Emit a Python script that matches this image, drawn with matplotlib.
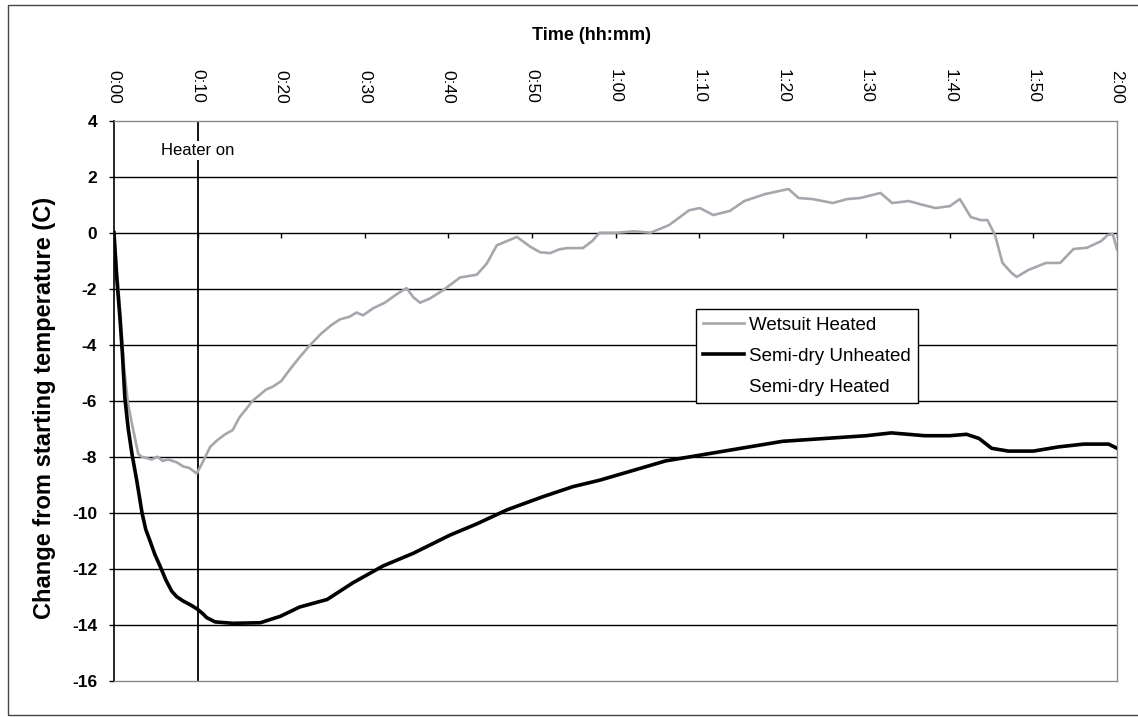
import matplotlib
matplotlib.use("Agg")
import matplotlib.pyplot as plt
from matplotlib.patches import Rectangle

plt.rcParams['font.family'] = ['Liberation Sans', 'DejaVu Sans']
plt.rcParams['axes.unicode_minus'] = False

# ---- data (time in minutes, change from starting temperature in C) ----
series_names = ["Wetsuit Heated", "Semi-dry Unheated", "Semi-dry Heated"]

wetsuit_t = [0, 0.4, 0.8, 1.2, 1.67, 2.2, 2.9, 3.3, 3.9, 4.5, 5.2, 5.8, 6.5, 7.5,
             8.3, 9.0, 9.9, 10.6, 11.5, 12.4, 13.3, 14.2, 15.0, 15.8, 16.6, 17.4,
             18.2, 19.0, 20.0, 21.0, 22.2, 23.5, 24.8, 26.0, 27.0, 28.2, 29.0,
             29.8, 31.0, 32.4, 33.8, 35.0, 35.8, 36.6, 37.8, 39.4, 41.4, 43.4,
             44.6, 45.8, 47.0, 48.2, 49.8, 51.0, 52.2, 53.2, 54.2, 56.1, 57.2,
             58.1, 60.2, 62.2, 64.2, 66.4, 68.8, 70.1, 71.7, 73.7, 75.4, 77.9,
             80.7, 81.9, 83.6, 86.0, 87.7, 89.3, 91.7, 93.1, 95.1, 96.8, 98.3,
             100.0, 101.2, 102.5, 103.7, 104.5, 105.4, 106.3, 107.4, 108.0,
             109.4, 111.5, 113.2, 114.8, 116.4, 118.1, 118.9, 119.5, 120.0]
wetsuit_v = [0, -1.5, -3.0, -4.8, -6.1, -6.9, -7.9, -8.0, -8.05, -8.1, -8.0, -8.15,
             -8.1, -8.2, -8.35, -8.4, -8.6, -8.2, -7.65, -7.4, -7.2, -7.05, -6.6,
             -6.3, -6.0, -5.8, -5.6, -5.5, -5.3, -4.9, -4.45, -4.0, -3.6, -3.3,
             -3.1, -3.0, -2.85, -2.95, -2.7, -2.5, -2.2, -1.98, -2.3, -2.5, -2.35,
             -2.05, -1.6, -1.5, -1.1, -0.45, -0.3, -0.15, -0.5, -0.7, -0.73, -0.6,
             -0.55, -0.55, -0.3, 0.0, 0.0, 0.05, 0.0, 0.27, 0.8, 0.88, 0.63, 0.78,
             1.13, 1.38, 1.56, 1.24, 1.2, 1.06, 1.2, 1.24, 1.42, 1.06, 1.13, 0.99,
             0.88, 0.95, 1.2, 0.56, 0.45, 0.45, -0.08, -1.08, -1.44, -1.58, -1.33,
             -1.08, -1.08, -0.58, -0.54, -0.3, -0.08, -0.05, -0.6]

unheated_t = [0, 0.3, 0.7, 1.0, 1.3, 1.7, 2.15, 2.75, 3.35, 3.8, 4.3, 4.9, 5.5,
              6.2, 6.9, 7.5, 8.25, 9.2, 10.0, 10.6, 11.1, 12.1, 14.2, 17.5, 19.9,
              22.2, 25.5, 28.6, 32.2, 35.8, 40.2, 43.4, 47.0, 51.3, 54.9, 58.1,
              62.0, 66.0, 70.0, 75.0, 80.0, 85.0, 90.0, 93.0, 97.0, 100.0, 102.0,
              103.5, 105.0, 107.0, 110.0, 113.0, 116.0, 119.0, 120.0]
unheated_v = [0, -1.5, -3.0, -4.3, -5.9, -7.0, -7.9, -8.9, -10.0, -10.6, -11.0,
              -11.5, -11.9, -12.4, -12.8, -13.0, -13.15, -13.3, -13.45, -13.6,
              -13.75, -13.9, -13.95, -13.93, -13.7, -13.37, -13.1, -12.5, -11.9,
              -11.45, -10.8, -10.4, -9.9, -9.43, -9.07, -8.84, -8.5, -8.15, -7.95,
              -7.7, -7.45, -7.35, -7.25, -7.15, -7.25, -7.25, -7.2, -7.35, -7.7,
              -7.8, -7.8, -7.65, -7.55, -7.55, -7.7]

semidry_heated_t = []
semidry_heated_v = []

time_ticks = list(range(0, 121, 10))
time_labels = [f"{m // 60}:{m % 60:02d}" for m in time_ticks]
temp_ticks = list(range(-16, 5, 2))
heater_on_min = 10

# ---- figure ----
W, H = 1138, 717
fig = plt.figure(figsize=(W / 100, H / 100), dpi=100)
fig.patch.set_facecolor('white')

# outer chart frame
fig.add_artist(Rectangle((8 / W, 1 - 715 / H), 1.2, (715 - 5) / H,
                         transform=fig.transFigure, fill=False,
                         edgecolor='#444444', lw=1.0))

ax = fig.add_axes([114 / W, 1 - 680.7 / H, (1117 - 114) / W, (680.7 - 120.7) / H])
ax.set_xlim(time_ticks[0], time_ticks[-1])
ax.set_ylim(temp_ticks[0], temp_ticks[-1])

# horizontal gridlines
for y in temp_ticks[1:-1]:
    ax.axhline(y, color='black', lw=1.0, zorder=1)

for side in ('top', 'bottom', 'right'):
    ax.spines[side].set_color('#8a8a8a')
    ax.spines[side].set_linewidth(1.0)
ax.spines['left'].set_color('black')
ax.spines['left'].set_linewidth(1.2)

# category-style tick marks hanging below the zero line
ax.vlines(time_ticks, -0.18, 0, color='black', lw=1.0, zorder=1)

# heater switch-on marker
ax.axvline(heater_on_min, color='black', lw=1.3, zorder=2)
ax.text(heater_on_min, 2.95, "Heater on", ha='center', va='center', fontsize=12,
        zorder=3, bbox=dict(facecolor='white', edgecolor='none', pad=1.5))

# series
ax.plot(wetsuit_t, wetsuit_v, color='#a4a7ac', lw=1.9, label=series_names[0], zorder=4)
ax.plot(unheated_t, unheated_v, color='black', lw=2.6, label=series_names[1], zorder=5)
ax.plot(semidry_heated_t, semidry_heated_v, color='white', lw=2.0,
        label=series_names[2], zorder=5)

# axes ticks
ax.xaxis.set_ticks_position('top')
ax.set_xticks(time_ticks)
ax.set_xticklabels(time_labels)
ax.tick_params(axis='x', length=0, pad=12.5, labelsize=12.5, labelrotation=-90)
ax.set_yticks(temp_ticks)
ax.tick_params(axis='y', length=3.6, width=1.0, pad=8.5, labelsize=12.5,
               direction='out')
for lbl in ax.get_yticklabels():
    lbl.set_fontweight('bold')

fig.text(592 / W, 1 - 35 / H, "Time (hh:mm)", ha='center', va='center',
         fontsize=13, fontweight='bold')
fig.text(45 / W, 1 - 408 / H, "Change from starting temperature (C)", ha='center',
         va='center', rotation=90, fontsize=17, fontweight='bold')

leg = ax.legend(loc='upper left', bbox_to_anchor=(0.580, 0.6638), frameon=True,
                fancybox=False, edgecolor='black', framealpha=1, borderaxespad=0,
                fontsize=13.5, handlelength=2.2, handletextpad=0.25,
                labelspacing=0.75, borderpad=0.4)
leg.get_frame().set_linewidth(1.0)
leg.set_zorder(10)

fig.savefig("out.png", dpi=100)
